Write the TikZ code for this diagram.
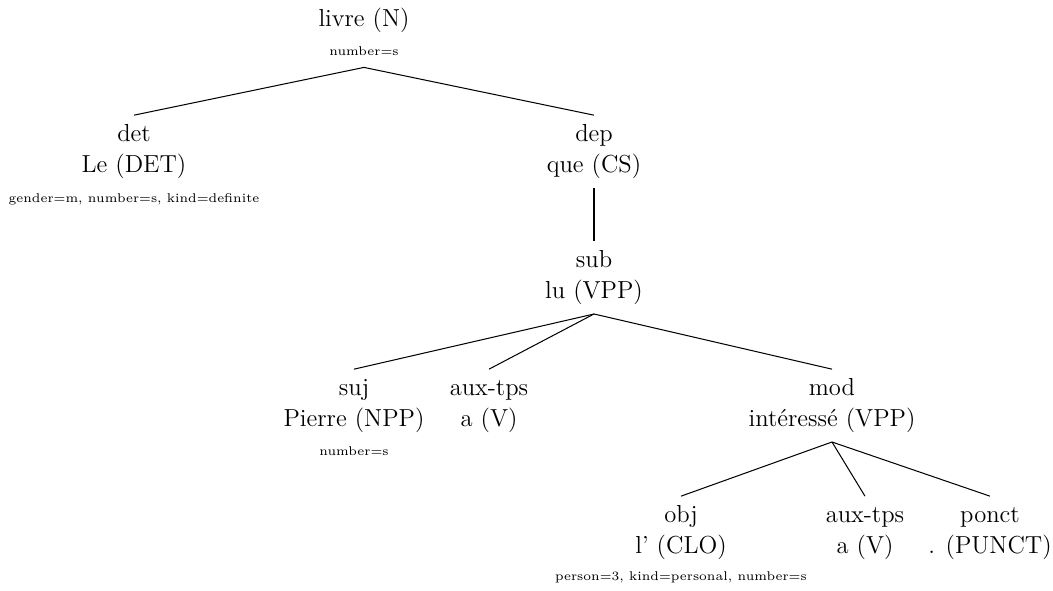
\documentclass[tikz,border=0pt]{standalone}
\begin{document}
\begin{tikzpicture}[x=0.4878pt,y=-0.4878pt,
  every node/.style={font=\fontsize{12}{14.4}\selectfont,inner xsep=0pt},
  lab/.style={anchor=base,inner ysep=4.07pt,text height=8.33pt,text depth=0pt},
  wrd/.style={anchor=base,inner ysep=4.6pt,text depth=3pt},
  feat/.style={anchor=base,inner ysep=5.85pt,text depth=0pt,font=\fontsize{6.2}{7}\selectfont},
  edge/.style={line width=0.5pt}]
\useasboundingbox (0,0) rectangle (1053,591);

% root
\node[wrd]  (livre)  at (364,26)  {livre (N)};
\node[feat] (livref) at (364,55)  {number=s};

% first level
\node[lab]  (detl)   at (134,141) {det};
\node[wrd]  (detw)   at (134,172) {Le (DET)};
\node[feat] (detf)   at (134,202) {gender=m, number=s, kind=definite};
\node[lab]  (depl)   at (594,141) {dep};
\node[wrd]  (depw)   at (594,172) {que (CS)};

% second level
\node[lab]  (subl)   at (594,267) {sub};
\node[wrd]  (subw)   at (594,298) {lu (VPP)};

% third level
\node[lab]  (sujl)   at (354,395) {suj};
\node[wrd]  (sujw)   at (354,426) {Pierre (NPP)};
\node[feat] (sujf)   at (354,455) {number=s};
\node[lab]  (auxl)   at (489,395) {aux-tps};
\node[wrd]  (auxw)   at (489,426) {a (V)};
\node[lab]  (modl)   at (832,395) {mod};
\node[wrd]  (modw)   at (832,426) {intéressé (VPP)};

% fourth level
\node[lab]  (objl)   at (681,522) {obj};
\node[wrd]  (objw)   at (681,553) {l' (CLO)};
\node[feat] (objf)   at (681,580) {person=3, kind=personal, number=s};
\node[lab]  (aux2l)  at (865,522) {aux-tps};
\node[wrd]  (aux2w)  at (865,553) {a (V)};
\node[lab]  (pctl)   at (990,522) {ponct};
\node[wrd]  (pctw)   at (990,553) {. (PUNCT)};

% dependency edges
\draw[edge] (livref.south) -- (detl.north);
\draw[edge] (livref.south) -- (depl.north);
\draw[edge] (depw.south) -- (subl.north);
\draw[edge] (subw.south) -- (sujl.north);
\draw[edge] (subw.south) -- (auxl.north);
\draw[edge] (subw.south) -- (modl.north);
\draw[edge] (modw.south) -- (objl.north);
\draw[edge] (modw.south) -- (aux2l.north);
\draw[edge] (modw.south) -- (pctl.north);
\end{tikzpicture}
\end{document}
